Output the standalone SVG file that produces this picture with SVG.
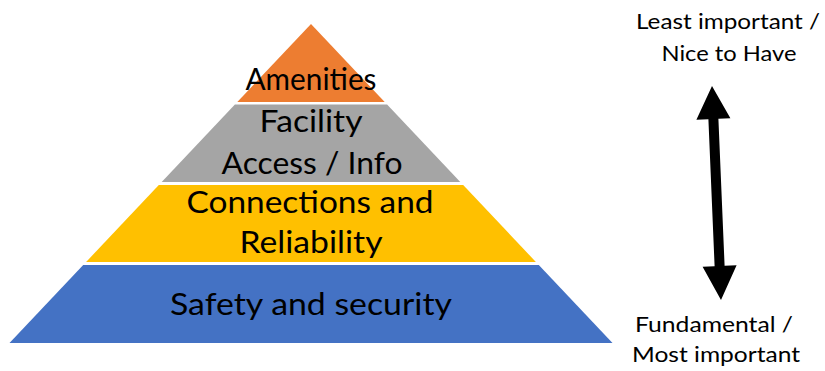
<svg xmlns="http://www.w3.org/2000/svg" width="825" height="371" viewBox="0 0 825 371">
<style>
.t{font-family:Lato,"Open Sans","Liberation Sans",sans-serif;fill:#000;text-anchor:middle}
.big{font-size:30px}
.side{font-size:21px}
</style>
<rect width="825" height="371" fill="#fff"/>
<g id="amenities">
<polygon points="311,24 384.7,102 237.3,102" fill="#ED7D31"/>
<text class="t big" x="311" y="90" textLength="131" lengthAdjust="spacingAndGlyphs">Amenities</text>
</g>
<g id="facility">
<polygon points="234.9,104.5 387.1,104.5 460.3,182 161.7,182" fill="#A5A5A5"/>
<text class="t big" x="311" y="132" textLength="103" lengthAdjust="spacingAndGlyphs">Facility</text>
<text class="t big" x="312" y="174" textLength="181" lengthAdjust="spacingAndGlyphs">Access / Info</text>
</g>
<g id="connections">
<polygon points="158.8,185 463.2,185 535.9,262 86.1,262" fill="#FFC000"/>
<text class="t big" x="310" y="213" textLength="247" lengthAdjust="spacingAndGlyphs">Connections and</text>
<text class="t big" x="311" y="253" textLength="143" lengthAdjust="spacingAndGlyphs">Reliability</text>
</g>
<g id="safety">
<polygon points="83.2,265 538.8,265 612.5,343 9.5,343" fill="#4472C4"/>
<text class="t big" x="311" y="315" textLength="282" lengthAdjust="spacingAndGlyphs">Safety and security</text>
</g>
<g id="top-label">
<text class="t side" x="728" y="29" textLength="184" lengthAdjust="spacingAndGlyphs">Least important /</text>
<text class="t side" x="729" y="61" textLength="135" lengthAdjust="spacingAndGlyphs">Nice to Have</text>
</g>
<g id="bottom-label">
<text class="t side" x="714" y="332" textLength="158" lengthAdjust="spacingAndGlyphs">Fundamental /</text>
<text class="t side" x="716" y="362" textLength="168" lengthAdjust="spacingAndGlyphs">Most important</text>
</g>
<g id="connectors">
<polygon points="712,86 730.4,118.3 718.4,118.8 724.6,265.8 736.6,265.3 721,300 702.6,266.7 714.6,266.2 708.4,119.2 696.4,119.7" fill="#000"/>
</g>
</svg>
